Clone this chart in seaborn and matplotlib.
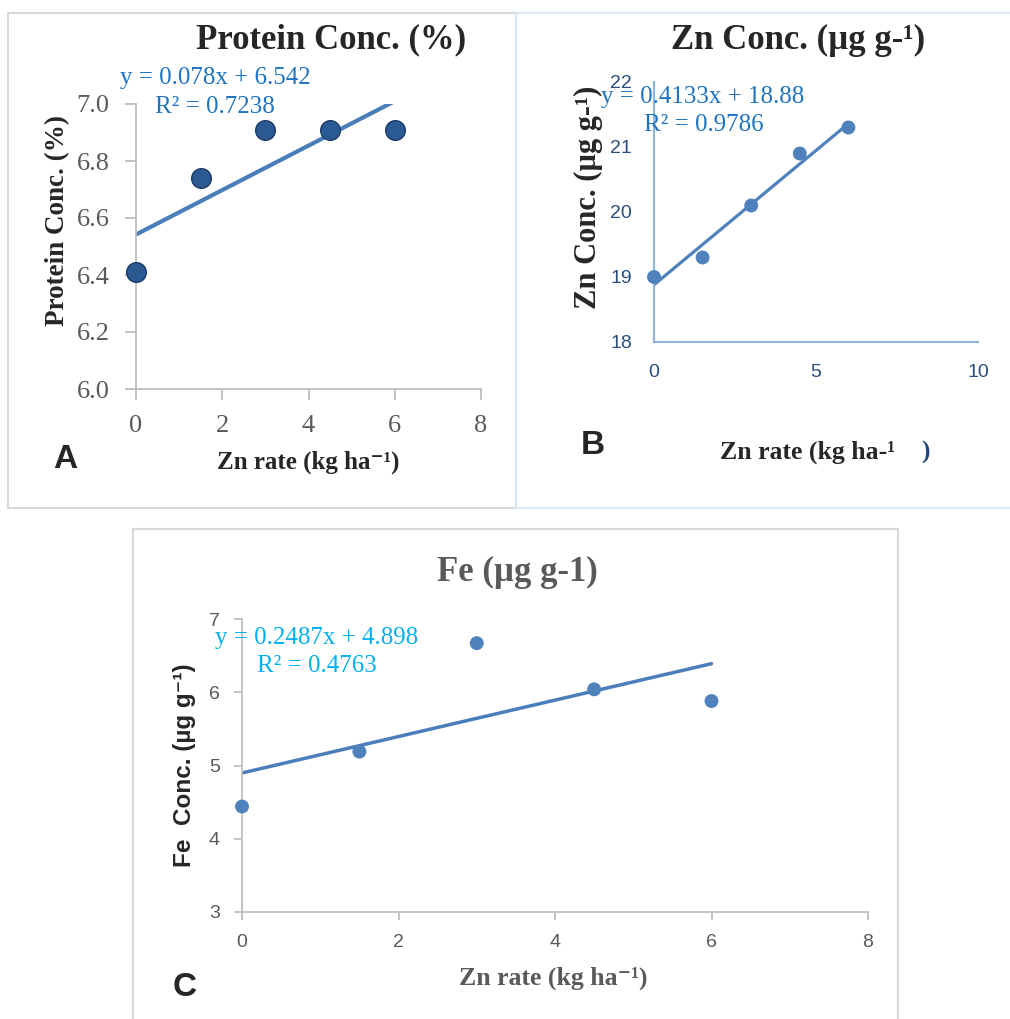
import matplotlib
matplotlib.use('Agg')
import matplotlib.pyplot as plt
from matplotlib.patches import Rectangle
import pandas as pd
import seaborn as sns

zn_rate = [0, 1.5, 3, 4.5, 6]
protein = [6.41, 6.74, 6.91, 6.91, 6.91]
zn_conc = [19.0, 19.3, 20.1, 20.9, 21.3]
fe_conc = [4.44, 5.19, 6.67, 6.04, 5.88]

df = pd.DataFrame({'zn_rate': zn_rate, 'protein': protein,
                   'zn_conc': zn_conc, 'fe_conc': fe_conc})

sns.set_style('white')
plt.rcParams['font.family'] = ['Liberation Serif', 'DejaVu Serif']
SANS = ['Liberation Sans', 'DejaVu Sans']

W, H = 1010, 1019
fig = plt.figure(figsize=(W / 100, H / 100), dpi=100)


def fx(x):
    return x / W


def fy(y):
    return 1 - y / H


def axes_px(x0, y0, x1, y1):
    return fig.add_axes([fx(x0), fy(y1), (x1 - x0) / W, (y1 - y0) / H])


def box(x0, y0, x1, y1, color):
    fig.add_artist(Rectangle((fx(x0), fy(y1)), (x1 - x0) / W, (y1 - y0) / H,
                             transform=fig.transFigure, fill=False,
                             ec=color, lw=1.5))


def txt(x, y, s, **kw):
    kw.setdefault('ha', 'center')
    kw.setdefault('va', 'center')
    fig.text(fx(x), fy(y), s, **kw)


# panel frames
box(8, 13, 516, 508, '#D9D9D9')
box(516, 13, 1012, 508, '#DCE6F2')
box(133, 529, 898, 1025, '#D9D9D9')

# ---- A: protein
ax = axes_px(136, 104, 481, 389)
sns.regplot(data=df, x='zn_rate', y='protein', ax=ax, ci=None, scatter=False,
            line_kws=dict(color='#4A7EBB', lw=3))
sns.scatterplot(data=df, x='zn_rate', y='protein', ax=ax, s=200,
                color='#2B5A93', edgecolor='#1B3A66', linewidth=1,
                zorder=3, clip_on=False)
ax.set_xlim(0, 8)
ax.set_ylim(6, 7)
ax.set_xticks([0, 2, 4, 6, 8])
ax.set_yticks([6.0, 6.2, 6.4, 6.6, 6.8, 7.0])
ax.set_yticklabels([f'{v:.1f}' for v in [6.0, 6.2, 6.4, 6.6, 6.8, 7.0]])
ax.set_xlabel('')
ax.set_ylabel('')
for s in ['top', 'right']:
    ax.spines[s].set_visible(False)
for s in ['left', 'bottom']:
    ax.spines[s].set_color('#BFBFBF')
    ax.spines[s].set_linewidth(1.3)
ax.tick_params(direction='out', length=8, width=1.3, color='#BFBFBF',
               labelsize=19, labelcolor='#595959', pad=11,
               left=True, bottom=True)
ax.patch.set_alpha(0)

txt(331, 40, 'Protein Conc. (%)', fontsize=25, fontweight='bold')
txt(215, 78, 'y = 0.078x + 6.542', fontsize=18, color='#1F74C1')
txt(215, 107, 'R² = 0.7238', fontsize=18, color='#1F74C1')
txt(58, 220, 'Protein Conc. (%)', fontsize=19.5, fontweight='bold', rotation=90)
txt(308, 462, 'Zn rate (kg ha⁻¹)', fontsize=18, fontweight='bold')
txt(65, 460, 'A', fontsize=24, fontweight='bold', family=SANS)

# ---- B: zinc
ax = axes_px(654, 82, 978, 342)
sns.regplot(data=df, x='zn_rate', y='zn_conc', ax=ax, ci=None, scatter=False,
            line_kws=dict(color='#4F81BD', lw=2.3))
sns.scatterplot(data=df, x='zn_rate', y='zn_conc', ax=ax, s=100,
                color='#4F81BD', edgecolor='none', zorder=3, clip_on=False)
ax.set_xlim(0, 10)
ax.set_ylim(18, 22)
ax.set_xticks([0, 5, 10])
ax.set_yticks([18, 19, 20, 21, 22])
ax.set_xlabel('')
ax.set_ylabel('')
for s in ['top', 'right']:
    ax.spines[s].set_visible(False)
for s in ['left', 'bottom']:
    ax.spines[s].set_color('#8EB4E3')
    ax.spines[s].set_linewidth(1.5)
ax.tick_params(length=0, labelsize=14, labelcolor='#2A4D7F', pad=16)
for lab in ax.get_xticklabels() + ax.get_yticklabels():
    lab.set_family(SANS)
ax.patch.set_alpha(0)

txt(798, 40, 'Zn Conc. (µg g-¹)', fontsize=25, fontweight='bold')
txt(703, 97, 'y = 0.4133x + 18.88', fontsize=18, color='#1F74C1')
txt(704, 125, 'R² = 0.9786', fontsize=18, color='#1F74C1')
txt(588, 197, 'Zn Conc. (µg g-¹)', fontsize=22, fontweight='bold', rotation=90)
txt(720, 452, 'Zn rate (kg ha-¹  ', fontsize=18.5, fontweight='bold', ha='left')
txt(925, 452, ')', fontsize=18.5, fontweight='bold', color='#1F497D')
txt(593, 446, 'B', fontsize=24, fontweight='bold', family=SANS)

# ---- C: iron
ax = axes_px(242, 619, 868, 912)
sns.regplot(data=df, x='zn_rate', y='fe_conc', ax=ax, ci=None, scatter=False,
            line_kws=dict(color='#4A7EBB', lw=2.5))
sns.scatterplot(data=df, x='zn_rate', y='fe_conc', ax=ax, s=100,
                color='#4F81BD', edgecolor='none', zorder=3, clip_on=False)
ax.set_xlim(0, 8)
ax.set_ylim(3, 7)
ax.set_xticks([0, 2, 4, 6, 8])
ax.set_yticks([3, 4, 5, 6, 7])
ax.set_xlabel('')
ax.set_ylabel('')
for s in ['top', 'right']:
    ax.spines[s].set_visible(False)
for s in ['left', 'bottom']:
    ax.spines[s].set_color('#BFBFBF')
    ax.spines[s].set_linewidth(1.3)
ax.tick_params(direction='out', length=6, width=1.3, color='#BFBFBF',
               labelsize=14, labelcolor='#595959', pad=10,
               left=True, bottom=True)
for lab in ax.get_xticklabels() + ax.get_yticklabels():
    lab.set_family(SANS)
ax.patch.set_alpha(0)

txt(517, 572, 'Fe (µg g-1)', fontsize=25, fontweight='bold', color='#595959')
txt(317, 638, 'y = 0.2487x + 4.898', fontsize=18, color='#00B0F0')
txt(317, 666, 'R² = 0.4763', fontsize=18, color='#00B0F0')
txt(185, 765, 'Fe  Conc. (µg g⁻¹)', fontsize=17.5, fontweight='bold',
    rotation=90, family=SANS)
txt(553, 978, 'Zn rate (kg ha⁻¹)', fontsize=18.5, fontweight='bold', color='#595959')
txt(185, 988, 'C', fontsize=24, fontweight='bold', family=SANS)

fig.savefig('out.png', dpi=100)
